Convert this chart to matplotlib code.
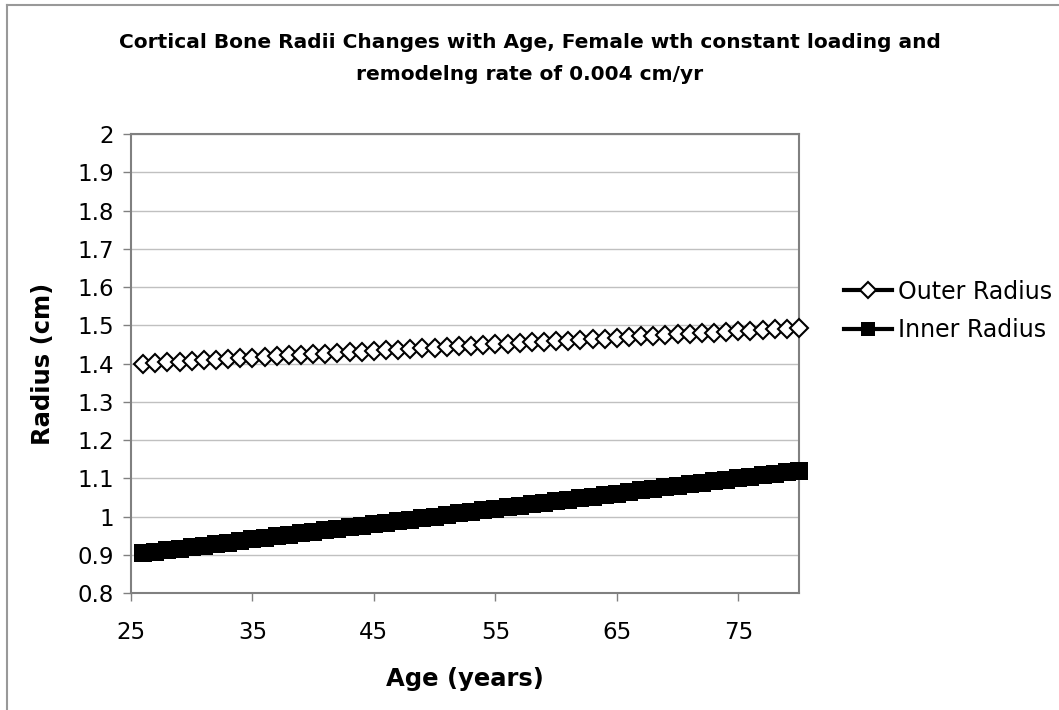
import matplotlib
matplotlib.use("Agg")
import matplotlib.pyplot as plt
from matplotlib.lines import Line2D

plt.rcParams['font.family'] = ['DejaVu Sans']

# data
ages = [26, 27, 28, 29, 30, 31, 32, 33, 34, 35, 36, 37, 38, 39, 40, 41, 42, 43, 44,
        45, 46, 47, 48, 49, 50, 51, 52, 53, 54, 55, 56, 57, 58, 59, 60, 61, 62, 63,
        64, 65, 66, 67, 68, 69, 70, 71, 72, 73, 74, 75, 76, 77, 78, 79, 80]

outer_radius = [1.400, 1.402, 1.403, 1.405, 1.407, 1.409, 1.410, 1.412, 1.414, 1.415,
                1.417, 1.419, 1.421, 1.422, 1.424, 1.426, 1.428, 1.429, 1.431, 1.433,
                1.434, 1.436, 1.438, 1.440, 1.441, 1.443, 1.445, 1.447, 1.448, 1.450,
                1.452, 1.453, 1.455, 1.457, 1.459, 1.460, 1.462, 1.464, 1.465, 1.467,
                1.469, 1.471, 1.472, 1.474, 1.476, 1.478, 1.479, 1.481, 1.483, 1.484,
                1.486, 1.488, 1.490, 1.491, 1.493]

inner_radius = [0.904, 0.908, 0.912, 0.916, 0.920, 0.924, 0.928, 0.932, 0.936, 0.940,
                0.944, 0.948, 0.952, 0.956, 0.960, 0.964, 0.968, 0.972, 0.976, 0.980,
                0.984, 0.988, 0.992, 0.996, 1.000, 1.004, 1.008, 1.012, 1.016, 1.020,
                1.024, 1.028, 1.032, 1.036, 1.040, 1.044, 1.048, 1.052, 1.056, 1.060,
                1.064, 1.068, 1.072, 1.076, 1.080, 1.084, 1.088, 1.092, 1.096, 1.100,
                1.104, 1.108, 1.112, 1.116, 1.120]

x_ticks = [25, 35, 45, 55, 65, 75]
y_ticks = [0.8, 0.9, 1.0, 1.1, 1.2, 1.3, 1.4, 1.5, 1.6, 1.7, 1.8, 1.9, 2.0]
y_labels = ['0.8', '0.9', '1', '1.1', '1.2', '1.3', '1.4', '1.5', '1.6', '1.7', '1.8', '1.9', '2']

fig = plt.figure(figsize=(10.59, 7.10), dpi=100)
ax = fig.add_axes([131 / 1059, 1 - 593 / 710, 668 / 1059, 459 / 710])

# chart area frame (left and top edges only visible)
fig.add_artist(Line2D([7 / 1059, 7 / 1059], [0, 1 - 5 / 710], transform=fig.transFigure,
                      color='#999999', lw=1.5))
fig.add_artist(Line2D([7 / 1059, 1], [1 - 5 / 710, 1 - 5 / 710], transform=fig.transFigure,
                      color='#999999', lw=1.5))

ax.plot(ages, outer_radius, color='black', lw=2.5, marker='D', markersize=9.5,
        markerfacecolor='white', markeredgecolor='black', markeredgewidth=1.5,
        label='Outer Radius', clip_on=False, zorder=3)
ax.plot(ages, inner_radius, color='black', lw=4, marker='s', markersize=12.5,
        markerfacecolor='black', markeredgecolor='black', markeredgewidth=0,
        label='Inner Radius', clip_on=False, zorder=3)

ax.set_xlim(25, 80)
ax.set_ylim(0.8, 2.0)
ax.set_xticks(x_ticks)
ax.set_yticks(y_ticks)
ax.set_yticklabels(y_labels)
ax.tick_params(axis='both', labelsize=16.5, colors='#808080', labelcolor='black',
               direction='out', length=6, width=1)
ax.tick_params(axis='x', pad=14)
ax.tick_params(axis='y', pad=6)
ax.grid(axis='y', color='#c0c0c0', lw=1)
ax.set_axisbelow(True)
for s in ax.spines.values():
    s.set_color('#808080')
    s.set_linewidth(1.5)

ax.set_xlabel('Age (years)', fontsize=17.5, fontweight='bold', labelpad=17)
ax.set_ylabel('Radius (cm)', fontsize=17.5, fontweight='bold', labelpad=16)

fig.text(0.5, 1 - 43 / 710,
         'Cortical Bone Radii Changes with Age, Female wth constant loading and',
         ha='center', va='center', fontsize=14.5, fontweight='bold')
fig.text(0.5, 1 - 74 / 710, 'remodelng rate of 0.004 cm/yr',
         ha='center', va='center', fontsize=14.5, fontweight='bold')

leg = ax.legend(loc='center left', bbox_to_anchor=(1.068, 0.615), frameon=False,
                fontsize=17, handlelength=2.0, handletextpad=0.25, labelspacing=0.6,
                borderaxespad=0, borderpad=0)
for h in leg.legend_handles:
    h.set_markersize(h.get_markersize() * 0.85)
    h.set_linewidth(3)

fig.savefig('out.png', dpi=100)
